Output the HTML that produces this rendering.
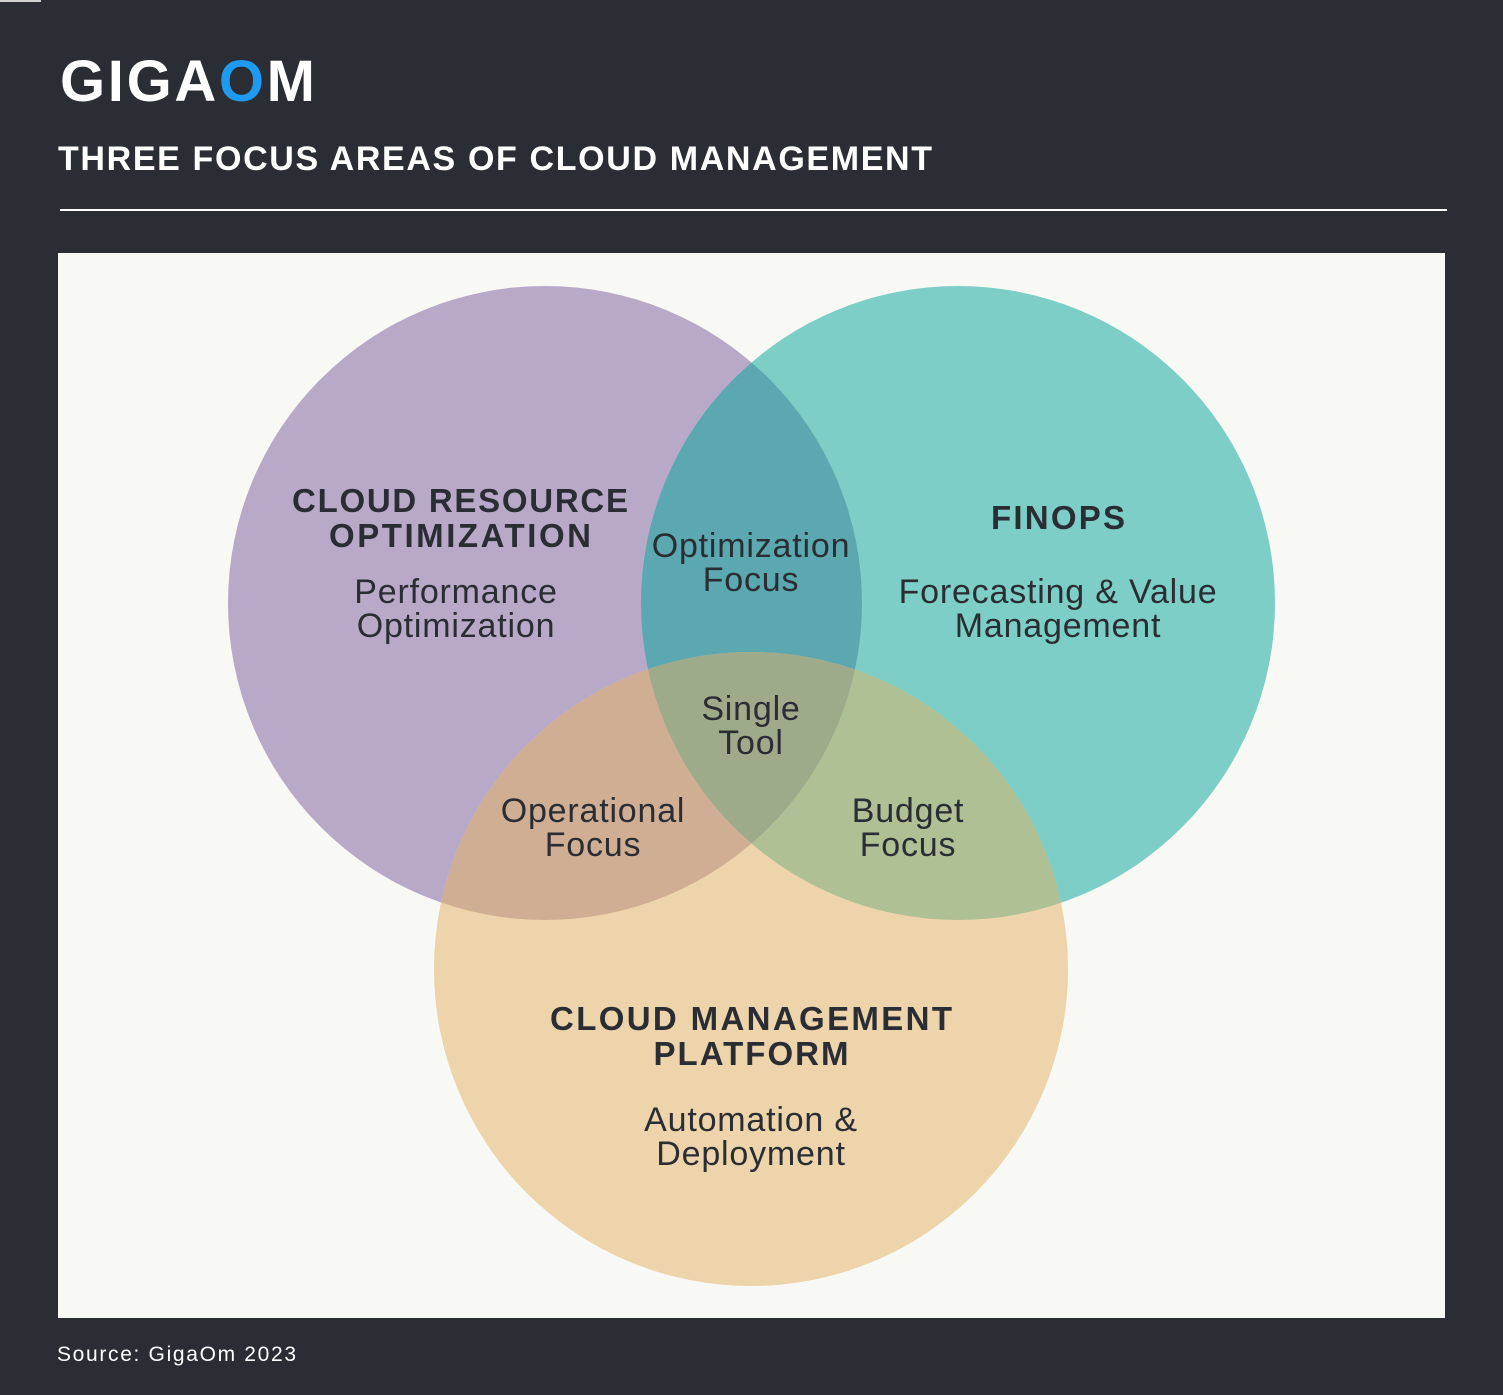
<!DOCTYPE html>
<html><head><meta charset="utf-8"><style>
html,body{margin:0;padding:0;background:#2a2d33;}
svg{display:block}
</style></head><body>
<svg width="1503" height="1395" viewBox="0 0 1503 1395" xmlns="http://www.w3.org/2000/svg" font-family="Liberation Sans, sans-serif">
<defs>
<clipPath id="cP"><circle cx="545" cy="603" r="317"/></clipPath>
<clipPath id="cT"><circle cx="958" cy="603" r="317"/></clipPath>
<clipPath id="cO"><circle cx="751" cy="969" r="317"/></clipPath>
</defs>
<rect width="1503" height="1395" fill="#2a2d33"/>
<rect x="0" y="0" width="41" height="2" fill="#d0d0d0"/>
<text x="60" y="101" font-size="58" font-weight="bold" fill="#fff" textLength="255" lengthAdjust="spacing">GIGA<tspan fill="#1e9bf0">O</tspan>M</text>
<text x="58" y="170" font-size="34" font-weight="bold" fill="#fff" textLength="874" lengthAdjust="spacing">THREE FOCUS AREAS OF CLOUD MANAGEMENT</text>
<rect x="60" y="209" width="1387" height="2" fill="#fff"/>
<rect x="58" y="253" width="1387" height="1065" fill="#f8f8f5"/>
<circle cx="545" cy="603" r="317" fill="#b9a9c8"/>
<circle cx="958" cy="603" r="317" fill="#7ccec6"/>
<circle cx="751" cy="969" r="317" fill="#edd4aa"/>
<g clip-path="url(#cP)"><circle cx="958" cy="603" r="317" fill="#5ba8b0"/><circle cx="751" cy="969" r="317" fill="#d0ae93"/></g>
<g clip-path="url(#cT)"><circle cx="751" cy="969" r="317" fill="#aec094"/></g>
<g clip-path="url(#cP)"><g clip-path="url(#cT)"><circle cx="751" cy="969" r="317" fill="#9eab8b"/></g></g>
<g fill="#2a2d33" text-anchor="middle">
<g font-size="33" font-weight="bold">
<text x="460" y="512" textLength="336" lengthAdjust="spacing">CLOUD RESOURCE</text>
<text x="460" y="547" textLength="262" lengthAdjust="spacing">OPTIMIZATION</text>
<text x="1058" y="529" textLength="134" lengthAdjust="spacing">FINOPS</text>
<text x="751" y="1030" textLength="402" lengthAdjust="spacing">CLOUD MANAGEMENT</text>
<text x="751" y="1065" textLength="195" lengthAdjust="spacing">PLATFORM</text>
</g>
<g font-size="34" letter-spacing="0.8">
<text x="456" y="603">Performance</text>
<text x="456" y="637">Optimization</text>
<text x="751" y="557">Optimization</text>
<text x="751" y="591">Focus</text>
<text x="1058" y="603">Forecasting &amp; Value</text>
<text x="1058" y="637">Management</text>
<text x="751" y="720">Single</text>
<text x="751" y="754">Tool</text>
<text x="593" y="822">Operational</text>
<text x="593" y="856">Focus</text>
<text x="908" y="822">Budget</text>
<text x="908" y="856">Focus</text>
<text x="751" y="1131">Automation &amp;</text>
<text x="751" y="1165">Deployment</text>
</g>
</g>
<text x="57" y="1361" font-size="21" fill="#fff" textLength="239" lengthAdjust="spacing">Source: GigaOm 2023</text>
</svg>
</body></html>
